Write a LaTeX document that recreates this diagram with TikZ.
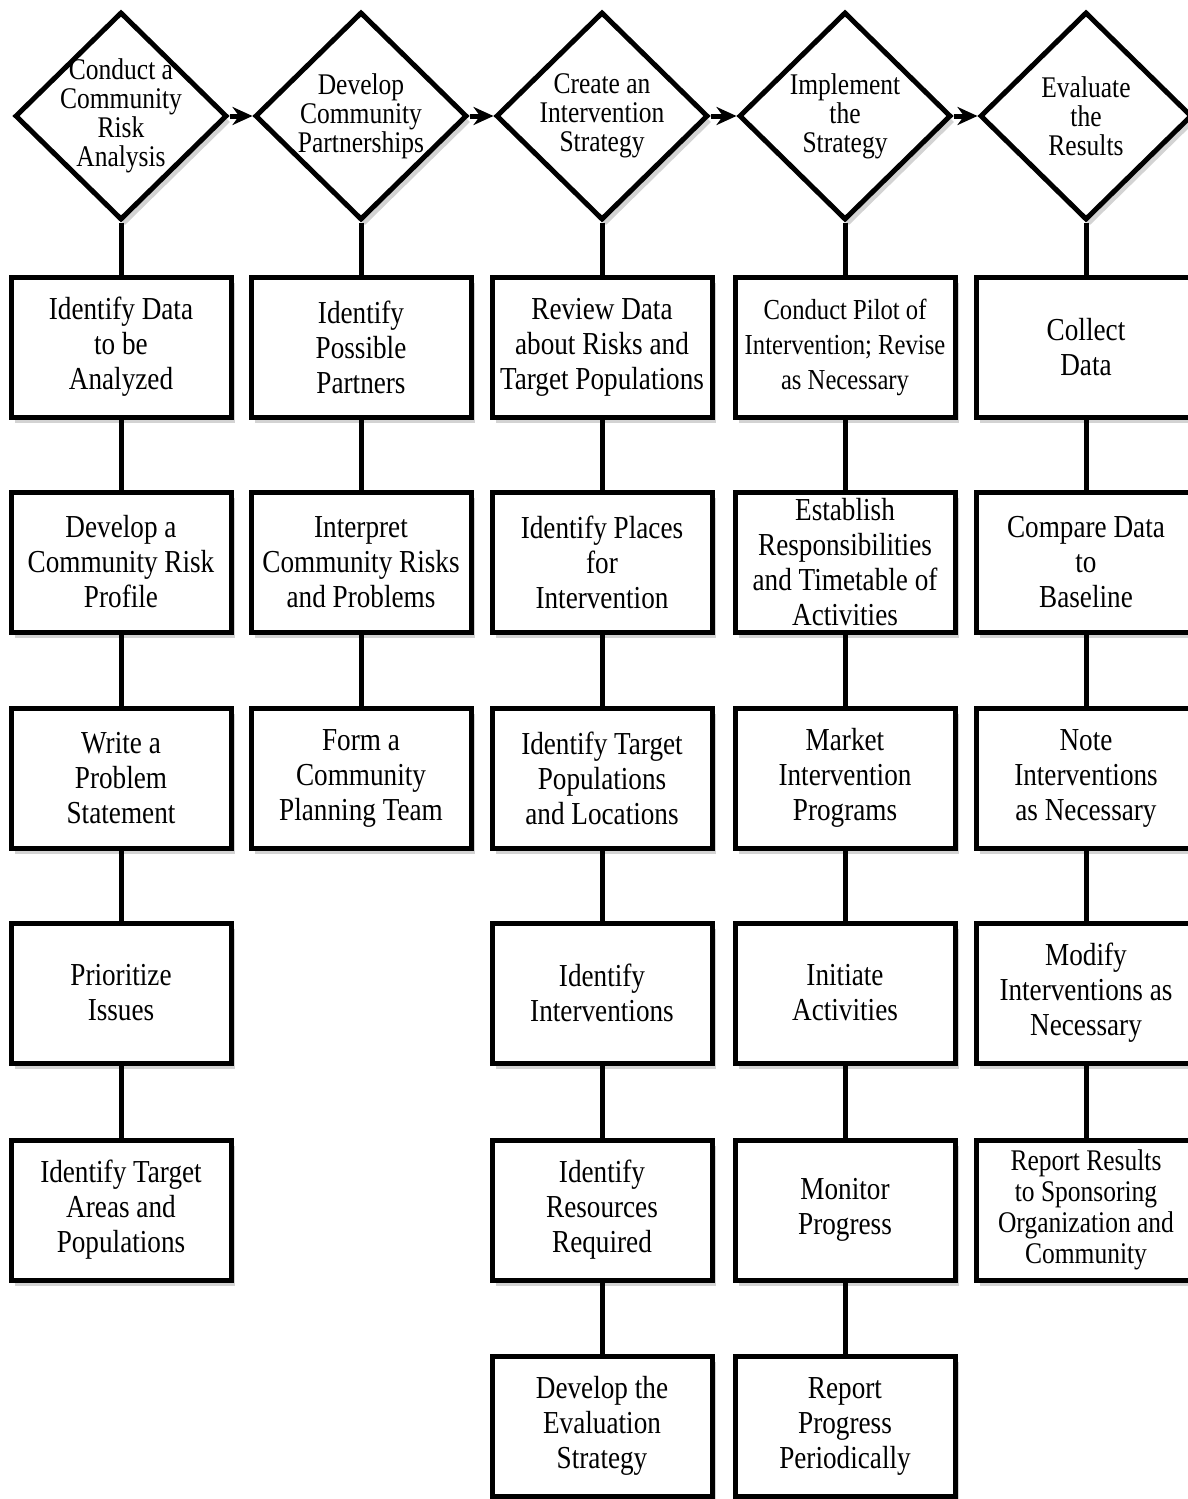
\documentclass[tikz,border=0pt]{standalone}
\usepackage{fontspec}
\setmainfont{Liberation Serif}[FakeStretch=0.85]
\usetikzlibrary{shapes.geometric, arrows.meta, shadows}

\tikzset{
  stage/.style={draw, line width=2.5pt, fill=white, shape=diamond, inner sep=-16pt,
    minimum width=106pt, minimum height=104pt, align=center,
    font=\fontsize{15}{14.5}\selectfont,
    drop shadow={opacity=0.35, shadow xshift=2pt, shadow yshift=-3pt}},
  task/.style={draw, line width=2.5pt, fill=white, rectangle, inner sep=2pt,
    minimum width=110pt, minimum height=70pt, align=center,
    font=\fontsize{16}{17.5}\selectfont,
    drop shadow={opacity=0.35, shadow xshift=2pt, shadow yshift=-3pt}},
  link/.style={line width=2.5pt},
  flow/.style={line width=2.5pt, -{Stealth[length=10pt, width=9pt]}}
}

\begin{document}
\begin{tikzpicture}[x=0.5pt, y=-0.5pt]
  \useasboundingbox (0,0) rectangle (1188,1499);

  % Stages
  \node[stage] (d1) at (121,116) {Conduct a\\Community\\Risk\\Analysis};
  \node[stage] (d2) at (361,116) {Develop\\Community\\Partnerships};
  \node[stage] (d3) at (602,116) {Create an\\Intervention\\Strategy};
  \node[stage] (d4) at (845,116) {Implement\\the\\Strategy};
  \node[stage] (d5) at (1086,116) {Evaluate\\the\\Results};

  % Column 1
  \node[task] (a1) at (121,347) {Identify Data\\to be\\Analyzed};
  \node[task] (a2) at (121,562) {Develop a\\Community Risk\\Profile};
  \node[task] (a3) at (121,778) {Write a\\Problem\\Statement};
  \node[task] (a4) at (121,993) {Prioritize\\Issues};
  \node[task] (a5) at (121,1210) {Identify Target\\Areas and\\Populations};

  % Column 2
  \node[task] (b1) at (361,347) {Identify\\Possible\\Partners};
  \node[task] (b2) at (361,562) {Interpret\\Community Risks\\and Problems};
  \node[task] (b3) at (361,778) {Form a\\Community\\Planning Team};

  % Column 3
  \node[task] (c1) at (602,347) {Review Data\\about Risks and\\Target Populations};
  \node[task] (c2) at (602,562) {Identify Places\\for\\Intervention};
  \node[task] (c3) at (602,778) {Identify Target\\Populations\\and Locations};
  \node[task] (c4) at (602,993) {Identify\\Interventions};
  \node[task] (c5) at (602,1210) {Identify\\Resources\\Required};
  \node[task] (c6) at (602,1426) {Develop the\\Evaluation\\Strategy};

  % Column 4
  \node[task, font=\fontsize{14.5}{17.5}\selectfont] (e1) at (845,347) {Conduct Pilot of\\Intervention; Revise\\as Necessary};
  \node[task] (e2) at (845,562) {Establish\\Responsibilities\\and Timetable of\\Activities};
  \node[task] (e3) at (845,778) {Market\\Intervention\\Programs};
  \node[task] (e4) at (845,993) {Initiate\\Activities};
  \node[task] (e5) at (845,1210) {Monitor\\Progress};
  \node[task] (e6) at (845,1426) {Report\\Progress\\Periodically};

  % Column 5
  \node[task] (f1) at (1086,347) {Collect\\Data};
  \node[task] (f2) at (1086,562) {Compare Data\\to\\Baseline};
  \node[task] (f3) at (1086,778) {Note\\Interventions\\as Necessary};
  \node[task] (f4) at (1086,993) {Modify\\Interventions as\\Necessary};
  \node[task, font=\fontsize{15}{15.5}\selectfont] (f5) at (1086,1210) {Report Results\\to Sponsoring\\Organization and\\Community};

  % Arrows between stages
  \draw[flow] (d1.east) -- (d2.west);
  \draw[flow] (d2.east) -- (d3.west);
  \draw[flow] (d3.east) -- (d4.west);
  \draw[flow] (d4.east) -- (d5.west);

  % Vertical links
  \draw[link] (d1.south) -- (a1.north) (a1) -- (a2) (a2) -- (a3) (a3) -- (a4) (a4) -- (a5);
  \draw[link] (d2.south) -- (b1.north) (b1) -- (b2) (b2) -- (b3);
  \draw[link] (d3.south) -- (c1.north) (c1) -- (c2) (c2) -- (c3) (c3) -- (c4) (c4) -- (c5) (c5) -- (c6);
  \draw[link] (d4.south) -- (e1.north) (e1) -- (e2) (e2) -- (e3) (e3) -- (e4) (e4) -- (e5) (e5) -- (e6);
  \draw[link] (d5.south) -- (f1.north) (f1) -- (f2) (f2) -- (f3) (f3) -- (f4) (f4) -- (f5);
\end{tikzpicture}
\end{document}
